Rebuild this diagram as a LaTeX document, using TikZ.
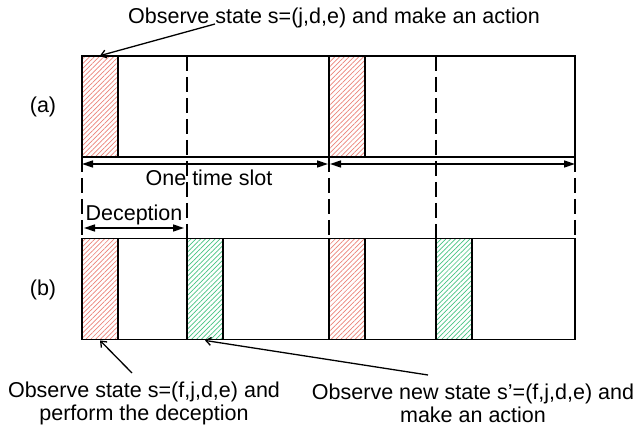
\documentclass[tikz,border=0pt]{standalone}
\usepackage{fontspec}
\setmainfont{Liberation Sans}
\usetikzlibrary{arrows.meta,patterns.meta}
\definecolor{hred}{RGB}{235,130,120}
\definecolor{hgreen}{RGB}{70,195,130}
\begin{document}
\begin{tikzpicture}[x=1pt,y=-1pt,
  lbl/.style={font=\fontsize{21.5pt}{23pt}\selectfont, inner sep=0pt},
  slotbox/.style={draw, line width=1.9pt, minimum width=493pt, minimum height=101pt, inner sep=0pt},
  blk/.style={draw, line width=1.9pt, minimum width=36pt, minimum height=101pt, inner sep=0pt,
    pattern={Lines[angle=45,distance=3.4pt,line width=0.7pt]}},
  redblk/.style={blk, pattern color=hred},
  grnblk/.style={blk, pattern color=hgreen},
  dashline/.style={line width=1.9pt, dash pattern=on 15pt off 6pt},
  dim/.style={line width=1.5pt, {Triangle[length=11pt,width=7pt]}-{Triangle[length=11pt,width=7pt]}},
  ptr/.style={line width=1.3pt, -{Straight Barb[length=5pt,width=8pt]}}
]
\useasboundingbox (0,0) rectangle (637,430);

% row (a)
\node[slotbox] (A) at (328.5,106.5) {};
\node[redblk] (ra1) at (100,106.5) {};
\node[redblk] (ra2) at (347,106.5) {};
% row (b)
\node[slotbox] (B) at (328.5,289) {};
\node[redblk] (rb1) at (100,289) {};
\node[grnblk] (gb1) at (205,289) {};
\node[redblk] (rb2) at (347,289) {};
\node[grnblk] (gb2) at (454,289) {};

% dashed guides
\draw[dashline] (187,56) -- (187,238);
\draw[dashline] (436,56) -- (436,238);
\draw[dashline] (82,157) -- (82,238);
\draw[dashline] (329,157) -- (329,238);
\draw[dashline] (575,157) -- (575,238);

% labels
\node[lbl] (la) at (43,107) {(a)};
\node[lbl] (lb) at (43,290) {(b)};

% one time slot arrows
\coordinate (t0) at (82,164);
\coordinate (t1a) at (328,164);
\coordinate (t1b) at (330,164);
\coordinate (t2) at (575,164);
\draw[dim] (t0) -- (t1a);
\draw[dim] (t1b) -- (t2);
\node[lbl] (ots) at (209,178) {One time slot};

% deception arrow
\coordinate (d0) at (84,228);
\coordinate (d1) at (184,228);
\draw[dim] (d0) -- (d1);
\node[lbl] (dec) at (134,215) {Deception};

% top annotation
\node[lbl] (topt) at (334,18) {Observe state s=(j,d,e) and make an action};
\coordinate (tp) at (215,24);
\draw[ptr] (tp) -- (ra1.north);

% bottom annotations
\node[lbl, align=center] (bl) at (144,403) {Observe state s=(f,j,d,e) and\\perform the deception};
\coordinate (blp) at (132,373);
\draw[ptr] (blp) -- (rb1.south);

\node[lbl, align=center] (br) at (473,403) {Observe new state s’=(f,j,d,e) and\\make an action};
\coordinate (brp) at (428,375);
\draw[ptr] (brp) -- (gb1.south);
\end{tikzpicture}
\end{document}
